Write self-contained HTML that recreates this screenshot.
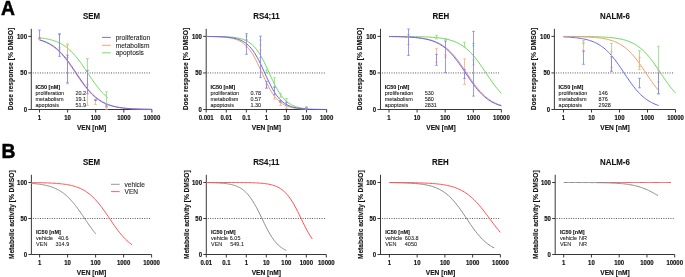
<!DOCTYPE html>
<html><head><meta charset="utf-8"><title>figure</title><style>
html,body{margin:0;padding:0;background:#fff;}
body{width:685px;height:277px;overflow:hidden;}
svg{display:block;will-change:transform;}
text{font-family:"Liberation Sans", sans-serif;}
.big{font-size:19.3px;font-weight:bold;fill:#000;stroke:#000;stroke-width:0.5px;}
.ti{font-size:7.9px;font-weight:bold;fill:#111;stroke:#111;stroke-width:0.1px;}
.tk{font-size:6px;font-weight:bold;fill:#111;stroke:#111;stroke-width:0.15px;}
.al{font-size:6.6px;font-weight:bold;fill:#111;stroke:#111;stroke-width:0.12px;}
.yla{font-size:6.72px;font-weight:bold;fill:#111;stroke:#111;stroke-width:0.12px;}
.lg{font-size:6.6px;fill:#222;stroke:#222;stroke-width:0.08px;}
.ih{font-size:5.5px;font-weight:bold;fill:#111;stroke:#111;stroke-width:0.1px;}
.it{font-size:5.5px;fill:#222;stroke:#222;stroke-width:0.08px;}
</style></head>
<body>
<svg width="685" height="277" viewBox="0 0 685 277">
<rect width="685" height="277" fill="#fff"/>
<g>
<text x="0.9" y="14.7" class="big">A</text>
<text x="1.5" y="158.4" class="big">B</text>
<path d="M31.30 28.80V109.50H151.90" fill="none" stroke="#222" stroke-width="0.9"/>
<line x1="28.30" y1="109.50" x2="31.30" y2="109.50" stroke="#222" stroke-width="0.9"/>
<text transform="translate(27.00 111.65) scale(1 1.1)" class="tk" text-anchor="end">0</text>
<line x1="28.30" y1="72.95" x2="31.30" y2="72.95" stroke="#222" stroke-width="0.9"/>
<text transform="translate(27.00 75.10) scale(1 1.1)" class="tk" text-anchor="end">50</text>
<line x1="28.30" y1="36.40" x2="31.30" y2="36.40" stroke="#222" stroke-width="0.9"/>
<text transform="translate(27.00 38.55) scale(1 1.1)" class="tk" text-anchor="end">100</text>
<line x1="39.50" y1="109.50" x2="39.50" y2="112.50" stroke="#222" stroke-width="0.9"/>
<text transform="translate(39.50 120.20) scale(1 1.1)" class="tk" text-anchor="middle">1</text>
<line x1="67.60" y1="109.50" x2="67.60" y2="112.50" stroke="#222" stroke-width="0.9"/>
<text transform="translate(67.60 120.20) scale(1 1.1)" class="tk" text-anchor="middle">10</text>
<line x1="95.70" y1="109.50" x2="95.70" y2="112.50" stroke="#222" stroke-width="0.9"/>
<text transform="translate(95.70 120.20) scale(1 1.1)" class="tk" text-anchor="middle">100</text>
<line x1="123.80" y1="109.50" x2="123.80" y2="112.50" stroke="#222" stroke-width="0.9"/>
<text transform="translate(123.80 120.20) scale(1 1.1)" class="tk" text-anchor="middle">1000</text>
<line x1="151.90" y1="109.50" x2="151.90" y2="112.50" stroke="#222" stroke-width="0.9"/>
<text transform="translate(151.90 120.20) scale(1 1.1)" class="tk" text-anchor="middle">10000</text>
<text transform="translate(91.60 18.80) scale(1 1.12)" class="ti" text-anchor="middle">SEM</text>
<text transform="translate(91.60 130.10) scale(1 1.06)" class="al" text-anchor="middle">VEN [nM]</text>
<text transform="translate(13.10 69.10) rotate(-90)" class="yla" text-anchor="middle">Dose response [% DMSO]</text>
<line x1="32.80" y1="72.95" x2="150.90" y2="72.95" stroke="#333" stroke-width="0.85" stroke-dasharray="0.95 1.42"/>
<path d="M206.20 28.80V109.50H326.62" fill="none" stroke="#222" stroke-width="0.9"/>
<line x1="203.20" y1="109.50" x2="206.20" y2="109.50" stroke="#222" stroke-width="0.9"/>
<text transform="translate(201.90 111.65) scale(1 1.1)" class="tk" text-anchor="end">0</text>
<line x1="203.20" y1="72.95" x2="206.20" y2="72.95" stroke="#222" stroke-width="0.9"/>
<text transform="translate(201.90 75.10) scale(1 1.1)" class="tk" text-anchor="end">50</text>
<line x1="203.20" y1="36.40" x2="206.20" y2="36.40" stroke="#222" stroke-width="0.9"/>
<text transform="translate(201.90 38.55) scale(1 1.1)" class="tk" text-anchor="end">100</text>
<line x1="206.20" y1="109.50" x2="206.20" y2="112.50" stroke="#222" stroke-width="0.9"/>
<text transform="translate(206.20 120.20) scale(1 1.1)" class="tk" text-anchor="middle">0.001</text>
<line x1="226.27" y1="109.50" x2="226.27" y2="112.50" stroke="#222" stroke-width="0.9"/>
<text transform="translate(226.27 120.20) scale(1 1.1)" class="tk" text-anchor="middle">0.01</text>
<line x1="246.34" y1="109.50" x2="246.34" y2="112.50" stroke="#222" stroke-width="0.9"/>
<text transform="translate(246.34 120.20) scale(1 1.1)" class="tk" text-anchor="middle">0.1</text>
<line x1="266.41" y1="109.50" x2="266.41" y2="112.50" stroke="#222" stroke-width="0.9"/>
<text transform="translate(266.41 120.20) scale(1 1.1)" class="tk" text-anchor="middle">1</text>
<line x1="286.48" y1="109.50" x2="286.48" y2="112.50" stroke="#222" stroke-width="0.9"/>
<text transform="translate(286.48 120.20) scale(1 1.1)" class="tk" text-anchor="middle">10</text>
<line x1="306.55" y1="109.50" x2="306.55" y2="112.50" stroke="#222" stroke-width="0.9"/>
<text transform="translate(306.55 120.20) scale(1 1.1)" class="tk" text-anchor="middle">100</text>
<line x1="326.62" y1="109.50" x2="326.62" y2="112.50" stroke="#222" stroke-width="0.9"/>
<text transform="translate(326.62 120.20) scale(1 1.1)" class="tk" text-anchor="middle">1000</text>
<text transform="translate(266.41 18.80) scale(1 1.12)" class="ti" text-anchor="middle">RS4;11</text>
<text transform="translate(266.41 130.10) scale(1 1.06)" class="al" text-anchor="middle">VEN [nM]</text>
<text transform="translate(188.00 69.10) rotate(-90)" class="yla" text-anchor="middle">Dose response [% DMSO]</text>
<line x1="207.70" y1="72.95" x2="325.62" y2="72.95" stroke="#333" stroke-width="0.85" stroke-dasharray="0.95 1.42"/>
<path d="M380.50 28.80V109.50H501.40" fill="none" stroke="#222" stroke-width="0.9"/>
<line x1="377.50" y1="109.50" x2="380.50" y2="109.50" stroke="#222" stroke-width="0.9"/>
<text transform="translate(376.20 111.65) scale(1 1.1)" class="tk" text-anchor="end">0</text>
<line x1="377.50" y1="72.95" x2="380.50" y2="72.95" stroke="#222" stroke-width="0.9"/>
<text transform="translate(376.20 75.10) scale(1 1.1)" class="tk" text-anchor="end">50</text>
<line x1="377.50" y1="36.40" x2="380.50" y2="36.40" stroke="#222" stroke-width="0.9"/>
<text transform="translate(376.20 38.55) scale(1 1.1)" class="tk" text-anchor="end">100</text>
<line x1="389.00" y1="109.50" x2="389.00" y2="112.50" stroke="#222" stroke-width="0.9"/>
<text transform="translate(389.00 120.20) scale(1 1.1)" class="tk" text-anchor="middle">1</text>
<line x1="417.10" y1="109.50" x2="417.10" y2="112.50" stroke="#222" stroke-width="0.9"/>
<text transform="translate(417.10 120.20) scale(1 1.1)" class="tk" text-anchor="middle">10</text>
<line x1="445.20" y1="109.50" x2="445.20" y2="112.50" stroke="#222" stroke-width="0.9"/>
<text transform="translate(445.20 120.20) scale(1 1.1)" class="tk" text-anchor="middle">100</text>
<line x1="473.30" y1="109.50" x2="473.30" y2="112.50" stroke="#222" stroke-width="0.9"/>
<text transform="translate(473.30 120.20) scale(1 1.1)" class="tk" text-anchor="middle">1000</text>
<line x1="501.40" y1="109.50" x2="501.40" y2="112.50" stroke="#222" stroke-width="0.9"/>
<text transform="translate(501.40 120.20) scale(1 1.1)" class="tk" text-anchor="middle">10000</text>
<text transform="translate(440.95 18.80) scale(1 1.12)" class="ti" text-anchor="middle">REH</text>
<text transform="translate(440.95 130.10) scale(1 1.06)" class="al" text-anchor="middle">VEN [nM]</text>
<text transform="translate(362.30 69.10) rotate(-90)" class="yla" text-anchor="middle">Dose response [% DMSO]</text>
<line x1="382.00" y1="72.95" x2="500.40" y2="72.95" stroke="#333" stroke-width="0.85" stroke-dasharray="0.95 1.42"/>
<path d="M554.40 28.80V109.50H675.50" fill="none" stroke="#222" stroke-width="0.9"/>
<line x1="551.40" y1="109.50" x2="554.40" y2="109.50" stroke="#222" stroke-width="0.9"/>
<text transform="translate(550.10 111.65) scale(1 1.1)" class="tk" text-anchor="end">0</text>
<line x1="551.40" y1="72.95" x2="554.40" y2="72.95" stroke="#222" stroke-width="0.9"/>
<text transform="translate(550.10 75.10) scale(1 1.1)" class="tk" text-anchor="end">50</text>
<line x1="551.40" y1="36.40" x2="554.40" y2="36.40" stroke="#222" stroke-width="0.9"/>
<text transform="translate(550.10 38.55) scale(1 1.1)" class="tk" text-anchor="end">100</text>
<line x1="563.50" y1="109.50" x2="563.50" y2="112.50" stroke="#222" stroke-width="0.9"/>
<text transform="translate(563.50 120.20) scale(1 1.1)" class="tk" text-anchor="middle">1</text>
<line x1="591.50" y1="109.50" x2="591.50" y2="112.50" stroke="#222" stroke-width="0.9"/>
<text transform="translate(591.50 120.20) scale(1 1.1)" class="tk" text-anchor="middle">10</text>
<line x1="619.50" y1="109.50" x2="619.50" y2="112.50" stroke="#222" stroke-width="0.9"/>
<text transform="translate(619.50 120.20) scale(1 1.1)" class="tk" text-anchor="middle">100</text>
<line x1="647.50" y1="109.50" x2="647.50" y2="112.50" stroke="#222" stroke-width="0.9"/>
<text transform="translate(647.50 120.20) scale(1 1.1)" class="tk" text-anchor="middle">1000</text>
<line x1="675.50" y1="109.50" x2="675.50" y2="112.50" stroke="#222" stroke-width="0.9"/>
<text transform="translate(675.50 120.20) scale(1 1.1)" class="tk" text-anchor="middle">10000</text>
<text transform="translate(614.95 18.80) scale(1 1.12)" class="ti" text-anchor="middle">NALM-6</text>
<text transform="translate(614.95 130.10) scale(1 1.06)" class="al" text-anchor="middle">VEN [nM]</text>
<text transform="translate(536.20 69.10) rotate(-90)" class="yla" text-anchor="middle">Dose response [% DMSO]</text>
<line x1="555.90" y1="72.95" x2="674.50" y2="72.95" stroke="#333" stroke-width="0.85" stroke-dasharray="0.95 1.42"/>
<path d="M31.40 174.80V254.50H151.60" fill="none" stroke="#222" stroke-width="0.9"/>
<line x1="28.40" y1="254.50" x2="31.40" y2="254.50" stroke="#222" stroke-width="0.9"/>
<text transform="translate(27.10 256.65) scale(1 1.1)" class="tk" text-anchor="end">0</text>
<line x1="28.40" y1="218.50" x2="31.40" y2="218.50" stroke="#222" stroke-width="0.9"/>
<text transform="translate(27.10 220.65) scale(1 1.1)" class="tk" text-anchor="end">50</text>
<line x1="28.40" y1="182.50" x2="31.40" y2="182.50" stroke="#222" stroke-width="0.9"/>
<text transform="translate(27.10 184.65) scale(1 1.1)" class="tk" text-anchor="end">100</text>
<line x1="39.60" y1="254.50" x2="39.60" y2="257.50" stroke="#222" stroke-width="0.9"/>
<text transform="translate(39.60 265.20) scale(1 1.1)" class="tk" text-anchor="middle">1</text>
<line x1="67.60" y1="254.50" x2="67.60" y2="257.50" stroke="#222" stroke-width="0.9"/>
<text transform="translate(67.60 265.20) scale(1 1.1)" class="tk" text-anchor="middle">10</text>
<line x1="95.60" y1="254.50" x2="95.60" y2="257.50" stroke="#222" stroke-width="0.9"/>
<text transform="translate(95.60 265.20) scale(1 1.1)" class="tk" text-anchor="middle">100</text>
<line x1="123.60" y1="254.50" x2="123.60" y2="257.50" stroke="#222" stroke-width="0.9"/>
<text transform="translate(123.60 265.20) scale(1 1.1)" class="tk" text-anchor="middle">1000</text>
<line x1="151.60" y1="254.50" x2="151.60" y2="257.50" stroke="#222" stroke-width="0.9"/>
<text transform="translate(151.60 265.20) scale(1 1.1)" class="tk" text-anchor="middle">10000</text>
<text transform="translate(91.50 164.60) scale(1 1.12)" class="ti" text-anchor="middle">SEM</text>
<text transform="translate(91.50 275.00) scale(1 1.06)" class="al" text-anchor="middle">VEN [nM]</text>
<text transform="translate(13.70 214.75) rotate(-90)" class="al" text-anchor="middle">Metabolic activity [% DMSO]</text>
<line x1="32.90" y1="218.50" x2="150.60" y2="218.50" stroke="#333" stroke-width="0.85" stroke-dasharray="0.95 1.42"/>
<path d="M206.30 174.80V254.50H326.30" fill="none" stroke="#222" stroke-width="0.9"/>
<line x1="203.30" y1="254.50" x2="206.30" y2="254.50" stroke="#222" stroke-width="0.9"/>
<text transform="translate(202.00 256.65) scale(1 1.1)" class="tk" text-anchor="end">0</text>
<line x1="203.30" y1="218.50" x2="206.30" y2="218.50" stroke="#222" stroke-width="0.9"/>
<text transform="translate(202.00 220.65) scale(1 1.1)" class="tk" text-anchor="end">50</text>
<line x1="203.30" y1="182.50" x2="206.30" y2="182.50" stroke="#222" stroke-width="0.9"/>
<text transform="translate(202.00 184.65) scale(1 1.1)" class="tk" text-anchor="end">100</text>
<line x1="206.30" y1="254.50" x2="206.30" y2="257.50" stroke="#222" stroke-width="0.9"/>
<text transform="translate(206.30 265.20) scale(1 1.1)" class="tk" text-anchor="middle">0.01</text>
<line x1="226.30" y1="254.50" x2="226.30" y2="257.50" stroke="#222" stroke-width="0.9"/>
<text transform="translate(226.30 265.20) scale(1 1.1)" class="tk" text-anchor="middle">0.1</text>
<line x1="246.30" y1="254.50" x2="246.30" y2="257.50" stroke="#222" stroke-width="0.9"/>
<text transform="translate(246.30 265.20) scale(1 1.1)" class="tk" text-anchor="middle">1</text>
<line x1="266.30" y1="254.50" x2="266.30" y2="257.50" stroke="#222" stroke-width="0.9"/>
<text transform="translate(266.30 265.20) scale(1 1.1)" class="tk" text-anchor="middle">10</text>
<line x1="286.30" y1="254.50" x2="286.30" y2="257.50" stroke="#222" stroke-width="0.9"/>
<text transform="translate(286.30 265.20) scale(1 1.1)" class="tk" text-anchor="middle">100</text>
<line x1="306.30" y1="254.50" x2="306.30" y2="257.50" stroke="#222" stroke-width="0.9"/>
<text transform="translate(306.30 265.20) scale(1 1.1)" class="tk" text-anchor="middle">1000</text>
<line x1="326.30" y1="254.50" x2="326.30" y2="257.50" stroke="#222" stroke-width="0.9"/>
<text transform="translate(326.30 265.20) scale(1 1.1)" class="tk" text-anchor="middle">10000</text>
<text transform="translate(266.30 164.60) scale(1 1.12)" class="ti" text-anchor="middle">RS4;11</text>
<text transform="translate(266.30 275.00) scale(1 1.06)" class="al" text-anchor="middle">VEN [nM]</text>
<text transform="translate(188.60 214.75) rotate(-90)" class="al" text-anchor="middle">Metabolic activity [% DMSO]</text>
<line x1="207.80" y1="218.50" x2="325.30" y2="218.50" stroke="#333" stroke-width="0.85" stroke-dasharray="0.95 1.42"/>
<path d="M380.50 174.80V254.50H500.40" fill="none" stroke="#222" stroke-width="0.9"/>
<line x1="377.50" y1="254.50" x2="380.50" y2="254.50" stroke="#222" stroke-width="0.9"/>
<text transform="translate(376.20 256.65) scale(1 1.1)" class="tk" text-anchor="end">0</text>
<line x1="377.50" y1="218.50" x2="380.50" y2="218.50" stroke="#222" stroke-width="0.9"/>
<text transform="translate(376.20 220.65) scale(1 1.1)" class="tk" text-anchor="end">50</text>
<line x1="377.50" y1="182.50" x2="380.50" y2="182.50" stroke="#222" stroke-width="0.9"/>
<text transform="translate(376.20 184.65) scale(1 1.1)" class="tk" text-anchor="end">100</text>
<line x1="389.40" y1="254.50" x2="389.40" y2="257.50" stroke="#222" stroke-width="0.9"/>
<text transform="translate(389.40 265.20) scale(1 1.1)" class="tk" text-anchor="middle">1</text>
<line x1="417.15" y1="254.50" x2="417.15" y2="257.50" stroke="#222" stroke-width="0.9"/>
<text transform="translate(417.15 265.20) scale(1 1.1)" class="tk" text-anchor="middle">10</text>
<line x1="444.90" y1="254.50" x2="444.90" y2="257.50" stroke="#222" stroke-width="0.9"/>
<text transform="translate(444.90 265.20) scale(1 1.1)" class="tk" text-anchor="middle">100</text>
<line x1="472.65" y1="254.50" x2="472.65" y2="257.50" stroke="#222" stroke-width="0.9"/>
<text transform="translate(472.65 265.20) scale(1 1.1)" class="tk" text-anchor="middle">1000</text>
<line x1="500.40" y1="254.50" x2="500.40" y2="257.50" stroke="#222" stroke-width="0.9"/>
<text transform="translate(500.40 265.20) scale(1 1.1)" class="tk" text-anchor="middle">10000</text>
<text transform="translate(440.45 164.60) scale(1 1.12)" class="ti" text-anchor="middle">REH</text>
<text transform="translate(440.45 275.00) scale(1 1.06)" class="al" text-anchor="middle">VEN [nM]</text>
<text transform="translate(362.80 214.75) rotate(-90)" class="al" text-anchor="middle">Metabolic activity [% DMSO]</text>
<line x1="382.00" y1="218.50" x2="499.40" y2="218.50" stroke="#333" stroke-width="0.85" stroke-dasharray="0.95 1.42"/>
<path d="M555.20 174.80V254.50H674.70" fill="none" stroke="#222" stroke-width="0.9"/>
<line x1="552.20" y1="254.50" x2="555.20" y2="254.50" stroke="#222" stroke-width="0.9"/>
<text transform="translate(550.90 256.65) scale(1 1.1)" class="tk" text-anchor="end">0</text>
<line x1="552.20" y1="218.50" x2="555.20" y2="218.50" stroke="#222" stroke-width="0.9"/>
<text transform="translate(550.90 220.65) scale(1 1.1)" class="tk" text-anchor="end">50</text>
<line x1="552.20" y1="182.50" x2="555.20" y2="182.50" stroke="#222" stroke-width="0.9"/>
<text transform="translate(550.90 184.65) scale(1 1.1)" class="tk" text-anchor="end">100</text>
<line x1="563.70" y1="254.50" x2="563.70" y2="257.50" stroke="#222" stroke-width="0.9"/>
<text transform="translate(563.70 265.20) scale(1 1.1)" class="tk" text-anchor="middle">1</text>
<line x1="591.45" y1="254.50" x2="591.45" y2="257.50" stroke="#222" stroke-width="0.9"/>
<text transform="translate(591.45 265.20) scale(1 1.1)" class="tk" text-anchor="middle">10</text>
<line x1="619.20" y1="254.50" x2="619.20" y2="257.50" stroke="#222" stroke-width="0.9"/>
<text transform="translate(619.20 265.20) scale(1 1.1)" class="tk" text-anchor="middle">100</text>
<line x1="646.95" y1="254.50" x2="646.95" y2="257.50" stroke="#222" stroke-width="0.9"/>
<text transform="translate(646.95 265.20) scale(1 1.1)" class="tk" text-anchor="middle">1000</text>
<line x1="674.70" y1="254.50" x2="674.70" y2="257.50" stroke="#222" stroke-width="0.9"/>
<text transform="translate(674.70 265.20) scale(1 1.1)" class="tk" text-anchor="middle">10000</text>
<text transform="translate(614.95 164.60) scale(1 1.12)" class="ti" text-anchor="middle">NALM-6</text>
<text transform="translate(614.95 275.00) scale(1 1.06)" class="al" text-anchor="middle">VEN [nM]</text>
<text transform="translate(537.50 214.75) rotate(-90)" class="al" text-anchor="middle">Metabolic activity [% DMSO]</text>
<line x1="556.70" y1="218.50" x2="673.70" y2="218.50" stroke="#333" stroke-width="0.85" stroke-dasharray="0.95 1.42"/>
<path d="M39.50 37.78 L40.35 37.88 L41.20 37.98 L42.05 38.10 L42.90 38.22 L43.76 38.34 L44.61 38.48 L45.46 38.63 L46.31 38.78 L47.16 38.95 L48.01 39.12 L48.86 39.31 L49.71 39.51 L50.57 39.73 L51.42 39.96 L52.27 40.20 L53.12 40.46 L53.97 40.74 L54.82 41.03 L55.67 41.34 L56.52 41.67 L57.37 42.02 L58.23 42.40 L59.08 42.79 L59.93 43.21 L60.78 43.65 L61.63 44.12 L62.48 44.62 L63.33 45.14 L64.18 45.69 L65.03 46.27 L65.89 46.88 L66.74 47.53 L67.59 48.20 L68.44 48.91 L69.29 49.65 L70.14 50.42 L70.99 51.23 L71.84 52.07 L72.70 52.94 L73.55 53.85 L74.40 54.80 L75.25 55.77 L76.10 56.78 L76.95 57.82 L77.80 58.90 L78.65 60.00 L79.50 61.12 L80.36 62.28 L81.21 63.46 L82.06 64.65 L82.91 65.87 L83.76 67.11 L84.61 68.36 L85.46 69.61 L86.31 70.88 L87.17 72.16 L88.02 73.43 L88.87 74.70 L89.72 75.97 L90.57 77.23 L91.42 78.49 L92.27 79.72 L93.12 80.95 L93.97 82.15 L94.83 83.33 L95.68 84.49 L96.53 85.63 L97.38 86.73 L98.23 87.81 L99.08 88.86 L99.93 89.88 L100.78 90.86 L101.64 91.82 L102.49 92.73 L103.34 93.62 L104.19 94.47 L105.04 95.28 L105.89 96.07 L106.74 96.81 L107.59 97.53" fill="none" stroke="#6ed85a" stroke-width="1.0"/>
<path d="M39.50 40.04 L40.91 40.46 L42.31 40.92 L43.72 41.43 L45.12 42.00 L46.52 42.63 L47.93 43.31 L49.34 44.07 L50.74 44.90 L52.14 45.80 L53.55 46.78 L54.95 47.85 L56.36 49.01 L57.77 50.26 L59.17 51.59 L60.58 53.03 L61.98 54.55 L63.39 56.17 L64.79 57.87 L66.19 59.66 L67.60 61.52 L69.00 63.45 L70.41 65.44 L71.81 67.48 L73.22 69.55 L74.62 71.64 L76.03 73.75 L77.44 75.85 L78.84 77.93 L80.25 79.97 L81.65 81.97 L83.06 83.92 L84.46 85.80 L85.87 87.60 L87.27 89.33 L88.68 90.97 L90.08 92.51 L91.49 93.97 L92.89 95.33 L94.30 96.60 L95.70 97.78 L97.10 98.87 L98.51 99.87 L99.91 100.79 L101.32 101.64 L102.72 102.41 L104.13 103.11 L105.54 103.75 L106.94 104.33 L108.35 104.86 L109.75 105.34 L111.16 105.77 L112.56 106.15 L113.97 106.50 L115.37 106.82 L116.78 107.10 L118.18 107.35 L119.59 107.58 L120.99 107.78 L122.40 107.97 L123.80 108.13 L125.20 108.28 L126.61 108.41 L128.01 108.52 L129.42 108.63 L130.82 108.72 L132.23 108.81 L133.63 108.88 L135.04 108.95 L136.44 109.01 L137.85 109.06 L139.25 109.11 L140.66 109.15 L142.06 109.19 L143.47 109.22 L144.88 109.25 L146.28 109.28 L147.69 109.30 L149.09 109.32 L150.50 109.34 L151.90 109.36" fill="none" stroke="#f59a62" stroke-width="1.0"/>
<path d="M39.50 39.85 L40.91 40.25 L42.31 40.69 L43.72 41.18 L45.12 41.72 L46.52 42.31 L47.93 42.97 L49.34 43.69 L50.74 44.48 L52.14 45.35 L53.55 46.29 L54.95 47.32 L56.36 48.43 L57.77 49.64 L59.17 50.93 L60.58 52.32 L61.98 53.80 L63.39 55.37 L64.79 57.03 L66.19 58.78 L67.60 60.61 L69.00 62.50 L70.41 64.47 L71.81 66.48 L73.22 68.54 L74.62 70.62 L76.03 72.72 L77.44 74.83 L78.84 76.92 L80.25 78.98 L81.65 81.01 L83.06 82.98 L84.46 84.89 L85.87 86.74 L87.27 88.50 L88.68 90.18 L90.08 91.77 L91.49 93.27 L92.89 94.68 L94.30 95.99 L95.70 97.22 L97.10 98.35 L98.51 99.39 L99.91 100.35 L101.32 101.24 L102.72 102.04 L104.13 102.78 L105.54 103.45 L106.94 104.06 L108.35 104.61 L109.75 105.11 L111.16 105.56 L112.56 105.97 L113.97 106.34 L115.37 106.67 L116.78 106.97 L118.18 107.23 L119.59 107.47 L120.99 107.69 L122.40 107.88 L123.80 108.05 L125.20 108.21 L126.61 108.35 L128.01 108.47 L129.42 108.58 L130.82 108.68 L132.23 108.77 L133.63 108.85 L135.04 108.92 L136.44 108.98 L137.85 109.04 L139.25 109.09 L140.66 109.13 L142.06 109.17 L143.47 109.21 L144.88 109.24 L146.28 109.27 L147.69 109.29 L149.09 109.31 L150.50 109.33 L151.90 109.35" fill="none" stroke="#6262fa" stroke-width="1.0"/>
<path d="M206.20 36.44 L207.45 36.44 L208.71 36.45 L209.96 36.46 L211.22 36.47 L212.47 36.48 L213.73 36.49 L214.98 36.51 L216.23 36.52 L217.49 36.54 L218.74 36.57 L220.00 36.59 L221.25 36.63 L222.51 36.66 L223.76 36.71 L225.02 36.75 L226.27 36.81 L227.52 36.88 L228.78 36.96 L230.03 37.05 L231.29 37.15 L232.54 37.27 L233.80 37.41 L235.05 37.58 L236.30 37.76 L237.56 37.98 L238.81 38.23 L240.07 38.52 L241.32 38.86 L242.58 39.24 L243.83 39.68 L245.09 40.19 L246.34 40.77 L247.59 41.44 L248.85 42.20 L250.10 43.05 L251.36 44.03 L252.61 45.12 L253.87 46.35 L255.12 47.72 L256.38 49.25 L257.63 50.93 L258.88 52.76 L260.14 54.76 L261.39 56.92 L262.65 59.22 L263.90 61.66 L265.16 64.21 L266.41 66.85 L267.66 69.57 L268.92 72.32 L270.17 75.08 L271.43 77.81 L272.68 80.49 L273.94 83.09 L275.19 85.59 L276.44 87.95 L277.70 90.17 L278.95 92.24 L280.21 94.16 L281.46 95.91 L282.72 97.50 L283.97 98.94 L285.23 100.23 L286.48 101.39 L287.73 102.42 L288.99 103.33 L290.24 104.13 L291.50 104.83 L292.75 105.45 L294.01 105.99 L295.26 106.46 L296.51 106.87 L297.77 107.23 L299.02 107.54 L300.28 107.81 L301.53 108.04 L302.79 108.24 L304.04 108.42 L305.30 108.57 L306.55 108.70" fill="none" stroke="#6ed85a" stroke-width="1.0"/>
<path d="M206.20 36.49 L207.45 36.50 L208.71 36.52 L209.96 36.54 L211.22 36.56 L212.47 36.59 L213.73 36.62 L214.98 36.65 L216.23 36.69 L217.49 36.74 L218.74 36.80 L220.00 36.86 L221.25 36.93 L222.51 37.02 L223.76 37.12 L225.02 37.24 L226.27 37.37 L227.52 37.53 L228.78 37.71 L230.03 37.92 L231.29 38.16 L232.54 38.44 L233.80 38.76 L235.05 39.13 L236.30 39.56 L237.56 40.05 L238.81 40.61 L240.07 41.25 L241.32 41.98 L242.58 42.81 L243.83 43.75 L245.09 44.81 L246.34 46.01 L247.59 47.34 L248.85 48.82 L250.10 50.45 L251.36 52.25 L252.61 54.21 L253.87 56.32 L255.12 58.58 L256.38 60.98 L257.63 63.51 L258.88 66.13 L260.14 68.83 L261.39 71.57 L262.65 74.33 L263.90 77.08 L265.16 79.78 L266.41 82.40 L267.66 84.92 L268.92 87.32 L270.17 89.59 L271.43 91.70 L272.68 93.65 L273.94 95.45 L275.19 97.09 L276.44 98.57 L277.70 99.90 L278.95 101.09 L280.21 102.15 L281.46 103.09 L282.72 103.92 L283.97 104.65 L285.23 105.29 L286.48 105.85 L287.73 106.34 L288.99 106.77 L290.24 107.14 L291.50 107.46 L292.75 107.74 L294.01 107.98 L295.26 108.19 L296.51 108.37 L297.77 108.53 L299.02 108.66 L300.28 108.78 L301.53 108.88 L302.79 108.97 L304.04 109.04 L305.30 109.10 L306.55 109.16" fill="none" stroke="#f59a62" stroke-width="1.0"/>
<path d="M206.20 36.46 L207.71 36.48 L209.21 36.49 L210.72 36.51 L212.22 36.53 L213.73 36.56 L215.23 36.59 L216.74 36.62 L218.24 36.67 L219.75 36.72 L221.25 36.79 L222.76 36.86 L224.26 36.95 L225.77 37.06 L227.27 37.19 L228.78 37.35 L230.28 37.53 L231.79 37.75 L233.29 38.02 L234.80 38.33 L236.30 38.70 L237.81 39.14 L239.32 39.66 L240.82 40.27 L242.33 41.00 L243.83 41.84 L245.34 42.83 L246.84 43.98 L248.35 45.30 L249.85 46.81 L251.36 48.54 L252.86 50.49 L254.37 52.67 L255.87 55.08 L257.38 57.71 L258.88 60.54 L260.39 63.56 L261.89 66.72 L263.40 69.98 L264.90 73.29 L266.41 76.59 L267.92 79.83 L269.42 82.96 L270.93 85.95 L272.43 88.74 L273.94 91.33 L275.44 93.69 L276.95 95.82 L278.45 97.73 L279.96 99.41 L281.46 100.89 L282.97 102.17 L284.47 103.28 L285.98 104.24 L287.48 105.06 L288.99 105.76 L290.49 106.35 L292.00 106.85 L293.50 107.28 L295.01 107.64 L296.51 107.94 L298.02 108.19 L299.53 108.41 L301.03 108.59 L302.54 108.74 L304.04 108.86 L305.55 108.97 L307.05 109.06 L308.56 109.13 L310.06 109.19 L311.57 109.24 L313.07 109.28 L314.58 109.32 L316.08 109.35 L317.59 109.37 L319.09 109.40 L320.60 109.41 L322.10 109.43 L323.61 109.44 L325.11 109.45 L326.62 109.46" fill="none" stroke="#6262fa" stroke-width="1.0"/>
<path d="M389.00 36.43 L390.40 36.43 L391.81 36.43 L393.21 36.44 L394.62 36.44 L396.02 36.45 L397.43 36.45 L398.83 36.46 L400.24 36.46 L401.64 36.47 L403.05 36.48 L404.45 36.49 L405.86 36.50 L407.26 36.52 L408.67 36.53 L410.07 36.54 L411.48 36.56 L412.88 36.58 L414.29 36.60 L415.69 36.63 L417.10 36.66 L418.50 36.69 L419.91 36.72 L421.31 36.76 L422.72 36.81 L424.12 36.86 L425.53 36.91 L426.94 36.97 L428.34 37.04 L429.75 37.12 L431.15 37.21 L432.56 37.30 L433.96 37.41 L435.37 37.54 L436.77 37.67 L438.18 37.82 L439.58 37.99 L440.99 38.18 L442.39 38.40 L443.80 38.63 L445.20 38.89 L446.61 39.19 L448.01 39.51 L449.42 39.87 L450.82 40.28 L452.23 40.72 L453.63 41.21 L455.04 41.76 L456.44 42.36 L457.85 43.02 L459.25 43.74 L460.65 44.54 L462.06 45.41 L463.47 46.36 L464.87 47.39 L466.27 48.51 L467.68 49.72 L469.09 51.02 L470.49 52.42 L471.89 53.90 L473.30 55.48 L474.70 57.15 L476.11 58.90 L477.51 60.73 L478.92 62.64 L480.32 64.60 L481.73 66.62 L483.13 68.68 L484.54 70.77 L485.94 72.87 L487.35 74.97 L488.75 77.06 L490.16 79.12 L491.56 81.14 L492.97 83.11 L494.38 85.02 L495.78 86.86 L497.19 88.62 L498.59 90.29 L500.00 91.88 L501.40 93.37" fill="none" stroke="#6ed85a" stroke-width="1.0"/>
<path d="M389.00 36.53 L390.40 36.54 L391.81 36.56 L393.21 36.58 L394.62 36.60 L396.02 36.62 L397.43 36.65 L398.83 36.68 L400.24 36.72 L401.64 36.75 L403.05 36.80 L404.45 36.84 L405.86 36.90 L407.26 36.96 L408.67 37.03 L410.07 37.10 L411.48 37.19 L412.88 37.28 L414.29 37.39 L415.69 37.51 L417.10 37.64 L418.50 37.79 L419.91 37.95 L421.31 38.14 L422.72 38.34 L424.12 38.57 L425.53 38.83 L426.94 39.12 L428.34 39.43 L429.75 39.79 L431.15 40.18 L432.56 40.61 L433.96 41.10 L435.37 41.63 L436.77 42.21 L438.18 42.86 L439.58 43.57 L440.99 44.35 L442.39 45.21 L443.80 46.14 L445.20 47.15 L446.61 48.25 L448.01 49.44 L449.42 50.72 L450.82 52.09 L452.23 53.55 L453.63 55.11 L455.04 56.76 L456.44 58.49 L457.85 60.31 L459.25 62.19 L460.65 64.15 L462.06 66.15 L463.47 68.20 L464.87 70.29 L466.27 72.38 L467.68 74.49 L469.09 76.58 L470.49 78.65 L471.89 80.68 L473.30 82.67 L474.70 84.59 L476.11 86.44 L477.51 88.22 L478.92 89.92 L480.32 91.52 L481.73 93.04 L483.13 94.46 L484.54 95.79 L485.94 97.02 L487.35 98.17 L488.75 99.23 L490.16 100.20 L491.56 101.10 L492.97 101.92 L494.38 102.67 L495.78 103.35 L497.19 103.96 L498.59 104.53 L500.00 105.03 L501.40 105.49" fill="none" stroke="#f59a62" stroke-width="1.0"/>
<path d="M389.00 36.54 L390.40 36.55 L391.81 36.57 L393.21 36.59 L394.62 36.62 L396.02 36.64 L397.43 36.67 L398.83 36.71 L400.24 36.74 L401.64 36.79 L403.05 36.83 L404.45 36.89 L405.86 36.94 L407.26 37.01 L408.67 37.08 L410.07 37.17 L411.48 37.26 L412.88 37.36 L414.29 37.48 L415.69 37.61 L417.10 37.75 L418.50 37.92 L419.91 38.10 L421.31 38.30 L422.72 38.52 L424.12 38.77 L425.53 39.05 L426.94 39.36 L428.34 39.71 L429.75 40.09 L431.15 40.52 L432.56 40.99 L433.96 41.51 L435.37 42.08 L436.77 42.72 L438.18 43.41 L439.58 44.18 L440.99 45.01 L442.39 45.93 L443.80 46.92 L445.20 48.00 L446.61 49.17 L448.01 50.43 L449.42 51.78 L450.82 53.23 L452.23 54.76 L453.63 56.39 L455.04 58.11 L456.44 59.91 L457.85 61.78 L459.25 63.72 L460.65 65.71 L462.06 67.76 L463.47 69.83 L464.87 71.93 L466.27 74.03 L467.68 76.13 L469.09 78.20 L470.49 80.25 L471.89 82.24 L473.30 84.18 L474.70 86.05 L476.11 87.84 L477.51 89.56 L478.92 91.18 L480.32 92.72 L481.73 94.16 L483.13 95.51 L484.54 96.76 L485.94 97.93 L487.35 99.01 L488.75 100.00 L490.16 100.91 L491.56 101.75 L492.97 102.51 L494.38 103.20 L495.78 103.84 L497.19 104.41 L498.59 104.93 L500.00 105.40 L501.40 105.82" fill="none" stroke="#6262fa" stroke-width="1.0"/>
<path d="M563.50 36.42 L564.90 36.43 L566.30 36.43 L567.70 36.44 L569.10 36.44 L570.50 36.44 L571.90 36.45 L573.30 36.46 L574.70 36.46 L576.10 36.47 L577.50 36.48 L578.90 36.49 L580.30 36.50 L581.70 36.51 L583.10 36.52 L584.50 36.54 L585.90 36.56 L587.30 36.58 L588.70 36.60 L590.10 36.62 L591.50 36.65 L592.90 36.68 L594.30 36.71 L595.70 36.75 L597.10 36.79 L598.50 36.84 L599.90 36.89 L601.30 36.95 L602.70 37.02 L604.10 37.10 L605.50 37.18 L606.90 37.28 L608.30 37.38 L609.70 37.50 L611.10 37.63 L612.50 37.78 L613.90 37.94 L615.30 38.13 L616.70 38.33 L618.10 38.56 L619.50 38.81 L620.90 39.10 L622.30 39.41 L623.70 39.76 L625.10 40.15 L626.50 40.59 L627.90 41.06 L629.30 41.59 L630.70 42.18 L632.10 42.82 L633.50 43.53 L634.90 44.30 L636.30 45.15 L637.70 46.08 L639.10 47.08 L640.50 48.18 L641.90 49.36 L643.30 50.63 L644.70 52.00 L646.10 53.46 L647.50 55.01 L648.90 56.65 L650.30 58.38 L651.70 60.19 L653.10 62.07 L654.50 64.02 L655.90 66.03 L657.30 68.07 L658.70 70.15 L660.10 72.25 L661.50 74.36 L662.90 76.45 L664.30 78.52 L665.70 80.56 L667.10 82.54 L668.50 84.47 L669.90 86.33 L671.30 88.11 L672.70 89.81 L674.10 91.42 L675.50 92.94" fill="none" stroke="#6ed85a" stroke-width="1.0"/>
<path d="M563.50 36.90 L564.69 36.95 L565.88 37.00 L567.07 37.07 L568.26 37.13 L569.45 37.21 L570.64 37.29 L571.82 37.38 L573.01 37.48 L574.20 37.59 L575.39 37.71 L576.58 37.84 L577.77 37.98 L578.96 38.14 L580.15 38.32 L581.34 38.51 L582.53 38.72 L583.72 38.95 L584.91 39.20 L586.10 39.48 L587.29 39.78 L588.47 40.11 L589.66 40.47 L590.85 40.86 L592.04 41.29 L593.23 41.75 L594.42 42.26 L595.61 42.81 L596.80 43.40 L597.99 44.04 L599.18 44.74 L600.37 45.49 L601.56 46.30 L602.75 47.17 L603.94 48.09 L605.12 49.09 L606.31 50.15 L607.50 51.27 L608.69 52.46 L609.88 53.72 L611.07 55.05 L612.26 56.44 L613.45 57.89 L614.64 59.41 L615.83 60.97 L617.02 62.59 L618.21 64.26 L619.40 65.96 L620.59 67.70 L621.77 69.46 L622.96 71.24 L624.15 73.03 L625.34 74.81 L626.53 76.59 L627.72 78.35 L628.91 80.08 L630.10 81.79 L631.29 83.45 L632.48 85.06 L633.67 86.63 L634.86 88.14 L636.05 89.58 L637.24 90.97 L638.42 92.29 L639.61 93.54 L640.80 94.73 L641.99 95.85 L643.18 96.90 L644.37 97.89 L645.56 98.81 L646.75 99.67 L647.94 100.48 L649.13 101.22 L650.32 101.91 L651.51 102.55 L652.70 103.14 L653.89 103.69 L655.07 104.19 L656.26 104.65 L657.45 105.08 L658.64 105.47" fill="none" stroke="#6262fa" stroke-width="1.0"/>
<path d="M563.50 36.48 L564.69 36.49 L565.88 36.50 L567.07 36.51 L568.26 36.52 L569.45 36.54 L570.64 36.55 L571.82 36.57 L573.01 36.58 L574.20 36.60 L575.39 36.62 L576.58 36.64 L577.77 36.67 L578.96 36.70 L580.15 36.73 L581.34 36.76 L582.53 36.80 L583.72 36.84 L584.91 36.88 L586.10 36.93 L587.29 36.99 L588.47 37.04 L589.66 37.11 L590.85 37.18 L592.04 37.26 L593.23 37.35 L594.42 37.45 L595.61 37.55 L596.80 37.67 L597.99 37.80 L599.18 37.94 L600.37 38.09 L601.56 38.26 L602.75 38.45 L603.94 38.65 L605.12 38.87 L606.31 39.12 L607.50 39.38 L608.69 39.68 L609.88 40.00 L611.07 40.35 L612.26 40.73 L613.45 41.14 L614.64 41.60 L615.83 42.09 L617.02 42.62 L618.21 43.20 L619.40 43.83 L620.59 44.51 L621.77 45.24 L622.96 46.03 L624.15 46.88 L625.34 47.79 L626.53 48.76 L627.72 49.80 L628.91 50.90 L630.10 52.07 L631.29 53.31 L632.48 54.62 L633.67 55.99 L634.86 57.42 L636.05 58.91 L637.24 60.47 L638.42 62.07 L639.61 63.72 L640.80 65.41 L641.99 67.14 L643.18 68.90 L644.37 70.67 L645.56 72.45 L646.75 74.24 L647.94 76.02 L649.13 77.79 L650.32 79.53 L651.51 81.24 L652.70 82.92 L653.89 84.55 L655.07 86.13 L656.26 87.66 L657.45 89.13 L658.64 90.53" fill="none" stroke="#f59a62" stroke-width="1.0"/>
<path d="M31.17 183.38 L31.98 183.44 L32.78 183.50 L33.59 183.57 L34.39 183.64 L35.20 183.71 L36.00 183.80 L36.81 183.88 L37.61 183.98 L38.42 184.07 L39.22 184.18 L40.03 184.29 L40.84 184.41 L41.64 184.54 L42.45 184.67 L43.25 184.82 L44.06 184.97 L44.86 185.13 L45.67 185.31 L46.47 185.49 L47.28 185.69 L48.08 185.89 L48.89 186.12 L49.69 186.35 L50.50 186.60 L51.31 186.86 L52.11 187.14 L52.92 187.44 L53.72 187.75 L54.53 188.08 L55.33 188.43 L56.14 188.80 L56.94 189.20 L57.75 189.61 L58.55 190.04 L59.36 190.50 L60.16 190.99 L60.97 191.50 L61.77 192.03 L62.58 192.59 L63.39 193.18 L64.19 193.80 L65.00 194.44 L65.80 195.12 L66.61 195.82 L67.41 196.55 L68.22 197.32 L69.02 198.11 L69.83 198.94 L70.63 199.79 L71.44 200.68 L72.24 201.59 L73.05 202.54 L73.86 203.51 L74.66 204.51 L75.47 205.53 L76.27 206.58 L77.08 207.65 L77.88 208.75 L78.69 209.86 L79.49 210.99 L80.30 212.14 L81.10 213.30 L81.91 214.48 L82.71 215.66 L83.52 216.84 L84.32 218.04 L85.13 219.23 L85.94 220.42 L86.74 221.60 L87.55 222.78 L88.35 223.95 L89.16 225.11 L89.96 226.26 L90.77 227.39 L91.57 228.50 L92.38 229.59 L93.18 230.65 L93.99 231.70 L94.79 232.72 L95.60 233.71" fill="none" stroke="#8a8a8a" stroke-width="1.0"/>
<path d="M31.17 182.61 L32.43 182.63 L33.69 182.64 L34.95 182.66 L36.21 182.67 L37.47 182.69 L38.74 182.71 L40.00 182.74 L41.26 182.76 L42.52 182.79 L43.78 182.82 L45.04 182.86 L46.30 182.89 L47.56 182.94 L48.82 182.98 L50.08 183.04 L51.34 183.10 L52.60 183.16 L53.86 183.23 L55.12 183.31 L56.39 183.40 L57.65 183.49 L58.91 183.60 L60.17 183.72 L61.43 183.85 L62.69 184.00 L63.95 184.15 L65.21 184.33 L66.47 184.53 L67.73 184.74 L68.99 184.98 L70.25 185.24 L71.51 185.52 L72.77 185.84 L74.04 186.18 L75.30 186.56 L76.56 186.98 L77.82 187.43 L79.08 187.93 L80.34 188.48 L81.60 189.07 L82.86 189.72 L84.12 190.42 L85.38 191.18 L86.64 192.00 L87.90 192.89 L89.16 193.85 L90.43 194.87 L91.69 195.97 L92.95 197.14 L94.21 198.39 L95.47 199.71 L96.73 201.11 L97.99 202.57 L99.25 204.11 L100.51 205.71 L101.77 207.36 L103.03 209.08 L104.29 210.84 L105.55 212.64 L106.81 214.47 L108.08 216.32 L109.34 218.18 L110.60 220.05 L111.86 221.91 L113.12 223.75 L114.38 225.56 L115.64 227.33 L116.90 229.06 L118.16 230.74 L119.42 232.36 L120.68 233.92 L121.94 235.41 L123.20 236.83 L124.46 238.17 L125.73 239.44 L126.99 240.64 L128.25 241.76 L129.51 242.82 L130.77 243.79 L132.03 244.71" fill="none" stroke="#ff5050" stroke-width="1.0"/>
<path d="M206.30 182.62 L207.30 182.63 L208.30 182.65 L209.30 182.67 L210.30 182.69 L211.30 182.71 L212.30 182.74 L213.30 182.77 L214.30 182.80 L215.30 182.83 L216.30 182.87 L217.30 182.92 L218.30 182.97 L219.30 183.03 L220.30 183.09 L221.30 183.16 L222.30 183.24 L223.30 183.33 L224.30 183.43 L225.30 183.55 L226.30 183.67 L227.30 183.81 L228.30 183.97 L229.30 184.14 L230.30 184.34 L231.30 184.56 L232.30 184.80 L233.30 185.07 L234.30 185.37 L235.30 185.70 L236.30 186.08 L237.30 186.49 L238.30 186.95 L239.30 187.45 L240.30 188.01 L241.30 188.62 L242.30 189.30 L243.30 190.04 L244.30 190.86 L245.30 191.74 L246.30 192.71 L247.30 193.76 L248.30 194.90 L249.30 196.13 L250.30 197.45 L251.30 198.86 L252.30 200.36 L253.30 201.95 L254.30 203.62 L255.30 205.38 L256.30 207.22 L257.30 209.12 L258.30 211.07 L259.30 213.08 L260.30 215.12 L261.30 217.18 L262.30 219.26 L263.30 221.32 L264.30 223.37 L265.30 225.39 L266.30 227.36 L267.30 229.28 L268.30 231.13 L269.30 232.91 L270.30 234.61 L271.30 236.22 L272.30 237.75 L273.30 239.18 L274.30 240.52 L275.30 241.78 L276.30 242.94 L277.30 244.01 L278.30 245.00 L279.30 245.91 L280.30 246.74 L281.30 247.51 L282.30 248.20 L283.30 248.83 L284.30 249.40 L285.30 249.92 L286.30 250.39" fill="none" stroke="#8a8a8a" stroke-width="1.0"/>
<path d="M206.30 182.50 L207.63 182.50 L208.95 182.50 L210.28 182.50 L211.60 182.50 L212.93 182.50 L214.25 182.50 L215.58 182.50 L216.90 182.50 L218.23 182.51 L219.55 182.51 L220.88 182.51 L222.20 182.51 L223.53 182.51 L224.85 182.51 L226.18 182.51 L227.50 182.52 L228.83 182.52 L230.15 182.52 L231.48 182.52 L232.81 182.53 L234.13 182.53 L235.46 182.54 L236.78 182.54 L238.11 182.55 L239.43 182.56 L240.76 182.57 L242.08 182.58 L243.41 182.59 L244.73 182.61 L246.06 182.63 L247.38 182.65 L248.71 182.67 L250.03 182.70 L251.36 182.73 L252.68 182.77 L254.01 182.82 L255.33 182.87 L256.66 182.93 L257.99 183.00 L259.31 183.08 L260.64 183.18 L261.96 183.29 L263.29 183.42 L264.61 183.56 L265.94 183.74 L267.26 183.94 L268.59 184.17 L269.91 184.43 L271.24 184.74 L272.56 185.10 L273.89 185.51 L275.21 185.98 L276.54 186.52 L277.86 187.14 L279.19 187.85 L280.51 188.66 L281.84 189.58 L283.16 190.61 L284.49 191.77 L285.82 193.08 L287.14 194.53 L288.47 196.14 L289.79 197.91 L291.12 199.83 L292.44 201.92 L293.77 204.16 L295.09 206.54 L296.42 209.04 L297.74 211.64 L299.07 214.32 L300.39 217.05 L301.72 219.80 L303.04 222.53 L304.37 225.21 L305.69 227.82 L307.02 230.33 L308.34 232.71 L309.67 234.96 L311.00 237.05 L312.32 238.99" fill="none" stroke="#ff5050" stroke-width="1.0"/>
<path d="M389.40 182.62 L390.71 182.63 L392.02 182.65 L393.33 182.66 L394.64 182.68 L395.95 182.70 L397.26 182.73 L398.57 182.75 L399.88 182.78 L401.19 182.82 L402.51 182.85 L403.82 182.89 L405.13 182.94 L406.44 182.99 L407.75 183.04 L409.06 183.10 L410.37 183.17 L411.68 183.25 L412.99 183.33 L414.30 183.43 L415.61 183.53 L416.92 183.65 L418.23 183.78 L419.54 183.93 L420.85 184.09 L422.16 184.26 L423.47 184.46 L424.78 184.68 L426.10 184.92 L427.41 185.19 L428.72 185.48 L430.03 185.81 L431.34 186.17 L432.65 186.57 L433.96 187.01 L435.27 187.49 L436.58 188.02 L437.89 188.60 L439.20 189.24 L440.51 189.93 L441.82 190.69 L443.13 191.51 L444.44 192.40 L445.75 193.37 L447.06 194.41 L448.37 195.53 L449.69 196.73 L451.00 198.01 L452.31 199.38 L453.62 200.82 L454.93 202.35 L456.24 203.95 L457.55 205.62 L458.86 207.36 L460.17 209.16 L461.48 211.01 L462.79 212.90 L464.10 214.83 L465.41 216.77 L466.72 218.73 L468.03 220.68 L469.34 222.62 L470.65 224.54 L471.96 226.43 L473.27 228.26 L474.59 230.05 L475.90 231.77 L477.21 233.43 L478.52 235.01 L479.83 236.52 L481.14 237.95 L482.45 239.29 L483.76 240.56 L485.07 241.74 L486.38 242.84 L487.69 243.86 L489.00 244.81 L490.31 245.69 L491.62 246.50 L492.93 247.24 L494.24 247.92" fill="none" stroke="#8a8a8a" stroke-width="1.0"/>
<path d="M389.40 182.54 L390.79 182.55 L392.17 182.55 L393.56 182.56 L394.95 182.56 L396.34 182.57 L397.72 182.58 L399.11 182.58 L400.50 182.59 L401.89 182.60 L403.27 182.61 L404.66 182.63 L406.05 182.64 L407.44 182.66 L408.82 182.67 L410.21 182.69 L411.60 182.71 L412.99 182.74 L414.38 182.76 L415.76 182.79 L417.15 182.82 L418.54 182.86 L419.92 182.90 L421.31 182.94 L422.70 182.99 L424.09 183.04 L425.47 183.10 L426.86 183.16 L428.25 183.23 L429.64 183.31 L431.02 183.40 L432.41 183.50 L433.80 183.61 L435.19 183.73 L436.57 183.86 L437.96 184.00 L439.35 184.16 L440.74 184.34 L442.12 184.53 L443.51 184.75 L444.90 184.99 L446.29 185.25 L447.67 185.53 L449.06 185.85 L450.45 186.20 L451.84 186.58 L453.22 186.99 L454.61 187.45 L456.00 187.95 L457.39 188.50 L458.77 189.09 L460.16 189.74 L461.55 190.44 L462.94 191.20 L464.32 192.03 L465.71 192.92 L467.10 193.87 L468.49 194.90 L469.88 196.00 L471.26 197.18 L472.65 198.42 L474.04 199.75 L475.42 201.14 L476.81 202.61 L478.20 204.14 L479.59 205.74 L480.97 207.40 L482.36 209.12 L483.75 210.88 L485.14 212.68 L486.52 214.51 L487.91 216.36 L489.30 218.22 L490.69 220.09 L492.07 221.94 L493.46 223.78 L494.85 225.59 L496.24 227.36 L497.62 229.09 L499.01 230.77 L500.40 232.39" fill="none" stroke="#ff5050" stroke-width="1.0"/>
<path d="M596.34 182.50 L597.27 182.50 L598.20 182.50 L599.13 182.50 L600.07 182.50 L601.00 182.50 L601.93 182.50 L602.86 182.50 L603.79 182.50 L604.73 182.50 L605.66 182.50 L606.59 182.50 L607.52 182.50 L608.45 182.50 L609.39 182.50 L610.32 182.50 L611.25 182.50 L612.18 182.50 L613.11 182.50 L614.05 182.50 L614.98 182.50 L615.91 182.50 L616.84 182.50 L617.78 182.50 L618.71 182.50 L619.64 182.50 L620.57 182.50 L621.50 182.50 L622.44 182.50 L623.37 182.50 L624.30 182.50 L625.23 182.50 L626.16 182.50 L627.10 182.50 L628.03 182.50 L628.96 182.50 L629.89 182.50 L630.83 182.50 L631.76 182.50 L632.69 182.50 L633.62 182.50 L634.55 182.50 L635.49 182.50 L636.42 182.50 L637.35 182.50 L638.28 182.50 L639.21 182.50 L640.15 182.50 L641.08 182.50 L642.01 182.50 L642.94 182.50 L643.88 182.50 L644.81 182.50 L645.74 182.50 L646.67 182.50 L647.60 182.50 L648.54 182.50 L649.47 182.50 L650.40 182.50 L651.33 182.50 L652.26 182.50 L653.20 182.50 L654.13 182.50 L655.06 182.50 L655.99 182.50 L656.93 182.50 L657.86 182.50 L658.79 182.50 L659.72 182.50 L660.65 182.50 L661.59 182.50 L662.52 182.50 L663.45 182.50 L664.38 182.50 L665.31 182.50 L666.25 182.50 L667.18 182.50 L668.11 182.50 L669.04 182.50 L669.98 182.50 L670.91 182.50" fill="none" stroke="#ff5050" stroke-width="1.0"/>
<path d="M563.70 182.51 L564.88 182.51 L566.06 182.51 L567.24 182.51 L568.41 182.51 L569.59 182.52 L570.77 182.52 L571.95 182.52 L573.13 182.52 L574.31 182.52 L575.49 182.53 L576.67 182.53 L577.84 182.53 L579.02 182.53 L580.20 182.54 L581.38 182.54 L582.56 182.55 L583.74 182.55 L584.92 182.56 L586.09 182.56 L587.27 182.57 L588.45 182.57 L589.63 182.58 L590.81 182.59 L591.99 182.60 L593.17 182.61 L594.35 182.62 L595.52 182.63 L596.70 182.65 L597.88 182.66 L599.06 182.68 L600.24 182.70 L601.42 182.72 L602.60 182.74 L603.77 182.76 L604.95 182.79 L606.13 182.82 L607.31 182.85 L608.49 182.89 L609.67 182.93 L610.85 182.97 L612.03 183.02 L613.20 183.07 L614.38 183.13 L615.56 183.19 L616.74 183.26 L617.92 183.34 L619.10 183.42 L620.28 183.51 L621.45 183.61 L622.63 183.72 L623.81 183.84 L624.99 183.97 L626.17 184.12 L627.35 184.27 L628.53 184.44 L629.70 184.63 L630.88 184.83 L632.06 185.04 L633.24 185.28 L634.42 185.54 L635.60 185.81 L636.78 186.11 L637.96 186.43 L639.13 186.77 L640.31 187.14 L641.49 187.54 L642.67 187.96 L643.85 188.40 L645.03 188.87 L646.21 189.37 L647.38 189.90 L648.56 190.45 L649.74 191.02 L650.92 191.62 L652.10 192.24 L653.28 192.88 L654.46 193.54 L655.64 194.21 L656.81 194.90 L657.99 195.59" fill="none" stroke="#8a8a8a" stroke-width="1.0"/>
<path d="M39.50 37.40V39.50M38.20 37.40H40.80M38.20 39.50H40.80" fill="none" stroke="#f7ac7e" stroke-width="0.8"/>
<path d="M39.50 30.10V38.50M38.20 30.10H40.80M38.20 38.50H40.80" fill="none" stroke="#7e7efb" stroke-width="0.8"/>
<path d="M59.50 34.90V50.00M58.20 34.90H60.80M58.20 50.00H60.80" fill="none" stroke="#f7ac7e" stroke-width="0.8"/>
<path d="M59.50 33.50V47.90M58.20 33.50H60.80M58.20 47.90H60.80" fill="none" stroke="#88df78" stroke-width="0.8"/>
<path d="M59.50 34.00V56.30M58.20 34.00H60.80M58.20 56.30H60.80" fill="none" stroke="#7e7efb" stroke-width="0.8"/>
<path d="M67.50 43.90V57.50M66.20 43.90H68.80M66.20 57.50H68.80" fill="none" stroke="#88df78" stroke-width="0.8"/>
<path d="M67.50 45.00V83.90M66.20 45.00H68.80M66.20 83.90H68.80" fill="none" stroke="#f7ac7e" stroke-width="0.8"/>
<path d="M67.50 55.20V82.70M66.20 55.20H68.80M66.20 82.70H68.80" fill="none" stroke="#7e7efb" stroke-width="0.8"/>
<path d="M87.50 58.50V84.60M86.20 58.50H88.80M86.20 84.60H88.80" fill="none" stroke="#88df78" stroke-width="0.8"/>
<path d="M87.50 70.20V105.40M86.20 70.20H88.80M86.20 105.40H88.80" fill="none" stroke="#f7ac7e" stroke-width="0.8"/>
<path d="M87.50 70.70V93.70M86.20 70.70H88.80M86.20 93.70H88.80" fill="none" stroke="#7e7efb" stroke-width="0.8"/>
<path d="M95.50 100.50V104.50M94.20 100.50H96.80M94.20 104.50H96.80" fill="none" stroke="#f7ac7e" stroke-width="0.8"/>
<path d="M95.50 99.40V100.60M94.20 99.40H96.80M94.20 100.60H96.80" fill="none" stroke="#7e7efb" stroke-width="0.8"/>
<path d="M106.50 91.80V104.50M105.20 91.80H107.80M105.20 104.50H107.80" fill="none" stroke="#88df78" stroke-width="0.8"/>
<path d="M106.50 107.50V109.30M105.20 107.50H107.80M105.20 109.30H107.80" fill="none" stroke="#f7ac7e" stroke-width="0.8"/>
<path d="M106.50 104.90V106.40M105.20 104.90H107.80M105.20 106.40H107.80" fill="none" stroke="#7e7efb" stroke-width="0.8"/>
<path d="M246.50 36.10V40.00M245.20 36.10H247.80M245.20 40.00H247.80" fill="none" stroke="#88df78" stroke-width="0.8"/>
<path d="M246.50 40.00V47.00M245.20 40.00H247.80M245.20 47.00H247.80" fill="none" stroke="#f7ac7e" stroke-width="0.8"/>
<path d="M246.50 33.70V54.30M245.20 33.70H247.80M245.20 54.30H247.80" fill="none" stroke="#7e7efb" stroke-width="0.8"/>
<path d="M260.50 40.00V45.10M259.20 40.00H261.80M259.20 45.10H261.80" fill="none" stroke="#88df78" stroke-width="0.8"/>
<path d="M260.50 50.00V57.60M259.20 50.00H261.80M259.20 57.60H261.80" fill="none" stroke="#f7ac7e" stroke-width="0.8"/>
<path d="M260.50 36.10V77.40M259.20 36.10H261.80M259.20 77.40H261.80" fill="none" stroke="#7e7efb" stroke-width="0.8"/>
<path d="M266.50 69.90V73.00M265.20 69.90H267.80M265.20 73.00H267.80" fill="none" stroke="#88df78" stroke-width="0.8"/>
<path d="M266.50 84.00V88.40M265.20 84.00H267.80M265.20 88.40H267.80" fill="none" stroke="#f7ac7e" stroke-width="0.8"/>
<path d="M266.50 81.40V88.00M265.20 81.40H267.80M265.20 88.00H267.80" fill="none" stroke="#7e7efb" stroke-width="0.8"/>
<path d="M274.50 77.70V87.10M273.20 77.70H275.80M273.20 87.10H275.80" fill="none" stroke="#88df78" stroke-width="0.8"/>
<path d="M274.50 94.30V99.10M273.20 94.30H275.80M273.20 99.10H275.80" fill="none" stroke="#f7ac7e" stroke-width="0.8"/>
<path d="M274.50 87.10V94.70M273.20 87.10H275.80M273.20 94.70H275.80" fill="none" stroke="#7e7efb" stroke-width="0.8"/>
<path d="M280.50 93.30V97.20M279.20 93.30H281.80M279.20 97.20H281.80" fill="none" stroke="#88df78" stroke-width="0.8"/>
<path d="M280.50 102.50V105.50M279.20 102.50H281.80M279.20 105.50H281.80" fill="none" stroke="#f7ac7e" stroke-width="0.8"/>
<path d="M280.50 100.50V102.00M279.20 100.50H281.80M279.20 102.00H281.80" fill="none" stroke="#7e7efb" stroke-width="0.8"/>
<path d="M286.50 98.40V102.30M285.20 98.40H287.80M285.20 102.30H287.80" fill="none" stroke="#88df78" stroke-width="0.8"/>
<path d="M286.50 106.00V108.40M285.20 106.00H287.80M285.20 108.40H287.80" fill="none" stroke="#f7ac7e" stroke-width="0.8"/>
<path d="M286.50 102.30V105.00M285.20 102.30H287.80M285.20 105.00H287.80" fill="none" stroke="#7e7efb" stroke-width="0.8"/>
<path d="M306.50 106.60V108.80M305.20 106.60H307.80M305.20 108.80H307.80" fill="none" stroke="#f7ac7e" stroke-width="0.8"/>
<path d="M306.50 107.50V108.80M305.20 107.50H307.80M305.20 108.80H307.80" fill="none" stroke="#88df78" stroke-width="0.8"/>
<path d="M306.50 108.00V109.00M305.20 108.00H307.80M305.20 109.00H307.80" fill="none" stroke="#7e7efb" stroke-width="0.8"/>
<path d="M408.50 34.30V36.00M407.20 34.30H409.80M407.20 36.00H409.80" fill="none" stroke="#88df78" stroke-width="0.8"/>
<path d="M408.50 37.00V44.50M407.20 37.00H409.80M407.20 44.50H409.80" fill="none" stroke="#f7ac7e" stroke-width="0.8"/>
<path d="M408.50 29.00V55.40M407.20 29.00H409.80M407.20 55.40H409.80" fill="none" stroke="#7e7efb" stroke-width="0.8"/>
<path d="M436.50 35.30V38.90M435.20 35.30H437.80M435.20 38.90H437.80" fill="none" stroke="#88df78" stroke-width="0.8"/>
<path d="M436.50 48.40V62.30M435.20 48.40H437.80M435.20 62.30H437.80" fill="none" stroke="#f7ac7e" stroke-width="0.8"/>
<path d="M436.50 54.40V65.30M435.20 54.40H437.80M435.20 65.30H437.80" fill="none" stroke="#7e7efb" stroke-width="0.8"/>
<path d="M445.50 38.50V40.00M444.20 38.50H446.80M444.20 40.00H446.80" fill="none" stroke="#88df78" stroke-width="0.8"/>
<path d="M445.50 55.00V57.20M444.20 55.00H446.80M444.20 57.20H446.80" fill="none" stroke="#f7ac7e" stroke-width="0.8"/>
<path d="M445.50 41.10V72.60M444.20 41.10H446.80M444.20 72.60H446.80" fill="none" stroke="#7e7efb" stroke-width="0.8"/>
<path d="M464.50 42.30V46.80M463.20 42.30H465.80M463.20 46.80H465.80" fill="none" stroke="#88df78" stroke-width="0.8"/>
<path d="M464.50 58.80V84.40M463.20 58.80H465.80M463.20 84.40H465.80" fill="none" stroke="#f7ac7e" stroke-width="0.8"/>
<path d="M464.50 69.50V78.50M463.20 69.50H465.80M463.20 78.50H465.80" fill="none" stroke="#7e7efb" stroke-width="0.8"/>
<path d="M473.50 43.50V46.00M472.20 43.50H474.80M472.20 46.00H474.80" fill="none" stroke="#88df78" stroke-width="0.8"/>
<path d="M473.50 60.00V64.80M472.20 60.00H474.80M472.20 64.80H474.80" fill="none" stroke="#f7ac7e" stroke-width="0.8"/>
<path d="M473.50 31.40V96.10M472.20 31.40H474.80M472.20 96.10H474.80" fill="none" stroke="#7e7efb" stroke-width="0.8"/>
<path d="M583.50 40.50V51.40M582.20 40.50H584.80M582.20 51.40H584.80" fill="none" stroke="#f7ac7e" stroke-width="0.8"/>
<path d="M583.50 42.40V44.00M582.20 42.40H584.80M582.20 44.00H584.80" fill="none" stroke="#88df78" stroke-width="0.8"/>
<path d="M583.50 50.80V64.30M582.20 50.80H584.80M582.20 64.30H584.80" fill="none" stroke="#7e7efb" stroke-width="0.8"/>
<path d="M611.50 43.50V67.60M610.20 43.50H612.80M610.20 67.60H612.80" fill="none" stroke="#88df78" stroke-width="0.8"/>
<path d="M611.50 51.70V71.20M610.20 51.70H612.80M610.20 71.20H612.80" fill="none" stroke="#f7ac7e" stroke-width="0.8"/>
<path d="M611.50 56.80V71.20M610.20 56.80H612.80M610.20 71.20H612.80" fill="none" stroke="#7e7efb" stroke-width="0.8"/>
<path d="M639.50 50.80V66.70M638.20 50.80H640.80M638.20 66.70H640.80" fill="none" stroke="#88df78" stroke-width="0.8"/>
<path d="M639.50 57.40V69.50M638.20 57.40H640.80M638.20 69.50H640.80" fill="none" stroke="#f7ac7e" stroke-width="0.8"/>
<path d="M639.50 78.30V87.80M638.20 78.30H640.80M638.20 87.80H640.80" fill="none" stroke="#7e7efb" stroke-width="0.8"/>
<path d="M658.50 46.30V94.20M657.20 46.30H659.80M657.20 94.20H659.80" fill="none" stroke="#88df78" stroke-width="0.8"/>
<path d="M658.50 70.10V82.20M657.20 70.10H659.80M657.20 82.20H659.80" fill="none" stroke="#f7ac7e" stroke-width="0.8"/>
<path d="M658.50 72.90V93.40M657.20 72.90H659.80M657.20 93.40H659.80" fill="none" stroke="#7e7efb" stroke-width="0.8"/>
<line x1="102" y1="37.4" x2="110.8" y2="37.4" stroke="#6262fa" stroke-width="0.9"/>
<text transform="translate(115.70 40.10) scale(1 1.08)" class="lg">proliferation</text>
<line x1="102" y1="45.3" x2="110.8" y2="45.3" stroke="#f59a62" stroke-width="0.9"/>
<text transform="translate(115.70 47.60) scale(1 1.08)" class="lg">metabolism</text>
<line x1="102" y1="52.8" x2="110.8" y2="52.8" stroke="#6ed85a" stroke-width="0.9"/>
<text transform="translate(115.70 55.10) scale(1 1.08)" class="lg">apoptosis</text>
<line x1="111" y1="184.3" x2="119.7" y2="184.3" stroke="#8a8a8a" stroke-width="0.9"/>
<text transform="translate(124.50 186.70) scale(1 1.08)" class="lg">vehicle</text>
<line x1="111" y1="191.6" x2="119.7" y2="191.6" stroke="#ff5050" stroke-width="0.9"/>
<text transform="translate(124.50 194.00) scale(1 1.08)" class="lg">VEN</text>
<text transform="translate(35.50 88.90) scale(1 1.1)" class="ih">IC50 [nM]</text>
<text transform="translate(35.50 94.85) scale(1 1.1)" class="it">proliferation</text>
<text transform="translate(75.50 94.85) scale(1 1.1)" class="it">20.2</text>
<text transform="translate(35.50 100.80) scale(1 1.1)" class="it">metabolism</text>
<text transform="translate(75.50 100.80) scale(1 1.1)" class="it">19.1</text>
<text transform="translate(35.50 106.75) scale(1 1.1)" class="it">apoptosis</text>
<text transform="translate(75.50 106.75) scale(1 1.1)" class="it">51.9</text>
<text transform="translate(210.40 88.90) scale(1 1.1)" class="ih">IC50 [nM]</text>
<text transform="translate(210.40 94.85) scale(1 1.1)" class="it">proliferation</text>
<text transform="translate(250.40 94.85) scale(1 1.1)" class="it">0.78</text>
<text transform="translate(210.40 100.80) scale(1 1.1)" class="it">metabolism</text>
<text transform="translate(250.40 100.80) scale(1 1.1)" class="it">0.57</text>
<text transform="translate(210.40 106.75) scale(1 1.1)" class="it">apoptosis</text>
<text transform="translate(250.40 106.75) scale(1 1.1)" class="it">1.30</text>
<text transform="translate(384.70 88.90) scale(1 1.1)" class="ih">IC50 [nM]</text>
<text transform="translate(384.70 94.85) scale(1 1.1)" class="it">proliferation</text>
<text transform="translate(424.70 94.85) scale(1 1.1)" class="it">530</text>
<text transform="translate(384.70 100.80) scale(1 1.1)" class="it">metabolism</text>
<text transform="translate(424.70 100.80) scale(1 1.1)" class="it">580</text>
<text transform="translate(384.70 106.75) scale(1 1.1)" class="it">apoptosis</text>
<text transform="translate(424.70 106.75) scale(1 1.1)" class="it">2831</text>
<text transform="translate(558.60 88.90) scale(1 1.1)" class="ih">IC50 [nM]</text>
<text transform="translate(558.60 94.85) scale(1 1.1)" class="it">proliferation</text>
<text transform="translate(598.60 94.85) scale(1 1.1)" class="it">146</text>
<text transform="translate(558.60 100.80) scale(1 1.1)" class="it">metabolism</text>
<text transform="translate(598.60 100.80) scale(1 1.1)" class="it">876</text>
<text transform="translate(558.60 106.75) scale(1 1.1)" class="it">apoptosis</text>
<text transform="translate(598.60 106.75) scale(1 1.1)" class="it">2928</text>
<text transform="translate(36.10 234.00) scale(1 1.1)" class="ih">IC50 [nM]</text>
<text transform="translate(36.10 239.95) scale(1 1.1)" class="it">vehicle</text>
<text transform="translate(58.00 239.95) scale(1 1.1)" class="it">40.6</text>
<text transform="translate(36.10 245.90) scale(1 1.1)" class="it">VEN</text>
<text transform="translate(55.50 245.90) scale(1 1.1)" class="it">314.9</text>
<text transform="translate(211.00 234.00) scale(1 1.1)" class="ih">IC50 [nM]</text>
<text transform="translate(211.00 239.95) scale(1 1.1)" class="it">vehicle</text>
<text transform="translate(229.80 239.95) scale(1 1.1)" class="it">6.05</text>
<text transform="translate(211.00 245.90) scale(1 1.1)" class="it">VEN</text>
<text transform="translate(230.20 245.90) scale(1 1.1)" class="it">549.1</text>
<text transform="translate(385.20 234.00) scale(1 1.1)" class="ih">IC50 [nM]</text>
<text transform="translate(385.20 239.95) scale(1 1.1)" class="it">vehicle</text>
<text transform="translate(404.80 239.95) scale(1 1.1)" class="it">603.8</text>
<text transform="translate(385.20 245.90) scale(1 1.1)" class="it">VEN</text>
<text transform="translate(404.80 245.90) scale(1 1.1)" class="it">4050</text>
<text transform="translate(559.90 234.00) scale(1 1.1)" class="ih">IC50 [nM]</text>
<text transform="translate(559.90 239.95) scale(1 1.1)" class="it">vehicle</text>
<text transform="translate(579.10 239.95) scale(1 1.1)" class="it">NR</text>
<text transform="translate(559.90 245.90) scale(1 1.1)" class="it">VEN</text>
<text transform="translate(579.10 245.90) scale(1 1.1)" class="it">NR</text>
</g>
</svg>
</body></html>
